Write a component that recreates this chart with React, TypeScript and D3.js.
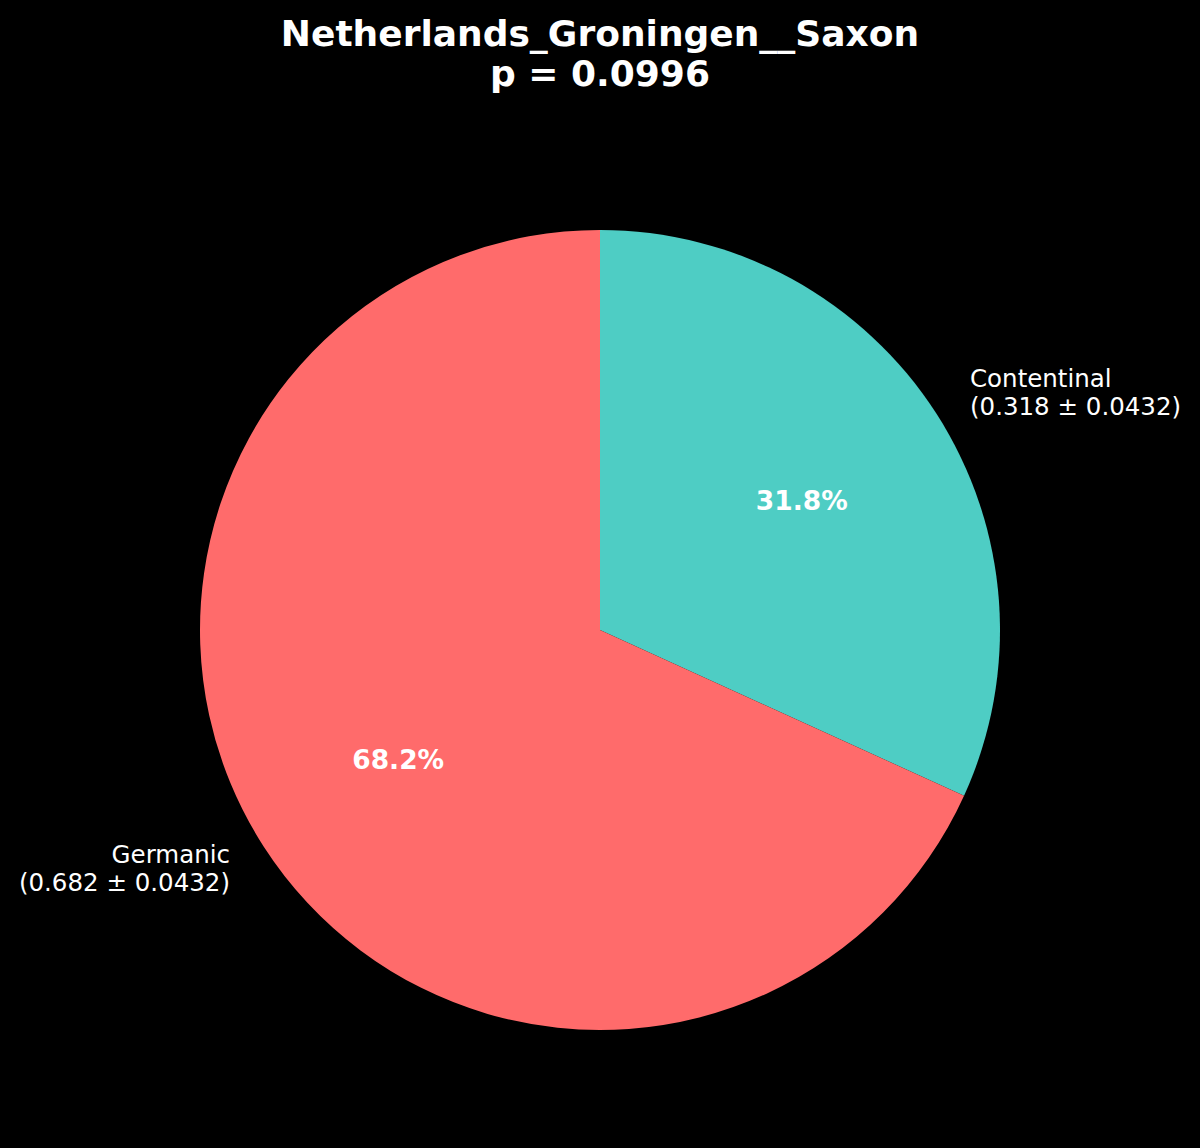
import React from "react";
import * as d3 from "d3";

const categories = ["Contentinal", "Germanic"];
const values = [0.318, 0.682];
const errors = [0.0432, 0.0432];
const colors = ["#4ecdc4", "#ff6b6b"];
const titleLines = ["Netherlands_Groningen__Saxon", "p = 0.0996"];

const W = 1200;
const H = 1148;
const cx = 600;
const cy = 630;
const R = 400;

export default function App() {
  const pie = d3.pie<number>().sort(null).value((d) => d);
  const arcs = pie(values);
  const arc = d3.arc<d3.PieArcDatum<number>>().innerRadius(0).outerRadius(R);
  const total = d3.sum(values);
  const font = "'DejaVu Sans', sans-serif";
  return (
    <svg width={W} height={H} style={{ display: "block", position: "absolute", left: 0, top: 0, background: "#000" }}>
      <rect x={0} y={0} width={W} height={H} fill="#000" />
      <g transform={`translate(${cx},${cy})`}>
        {arcs.map((a, i) => (
          <path key={i} d={arc(a) || ""} fill={colors[i]} />
        ))}
        {arcs.map((a, i) => {
          const mid = (a.startAngle + a.endAngle) / 2;
          const px = Math.sin(mid) * R * 0.6;
          const py = -Math.cos(mid) * R * 0.6;
          const lx = Math.sin(mid) * R * 1.1;
          const ly = -Math.cos(mid) * R * 1.1;
          const anchor = lx >= 0 ? "start" : "end";
          return (
            <g key={"t" + i}>
              <text x={px} y={py} textAnchor="middle" dominantBaseline="central" fill="#fff"
                fontFamily={font} fontWeight="bold" fontSize={26.5}>
                {((a.data / total) * 100).toFixed(1)}%
              </text>
              <text x={lx} y={ly} textAnchor={anchor} fill="#fff" fontFamily={font} fontSize={24.5}>
                <tspan x={lx} dy={-5}>{categories[i]}</tspan>
                <tspan x={lx} dy={28}>{`(${values[i].toFixed(3)} ± ${errors[i]})`}</tspan>
              </text>
            </g>
          );
        })}
      </g>
      <text x={W / 2} y={46} textAnchor="middle" fill="#fff" fontFamily={font} fontWeight="bold" fontSize={36}>
        {titleLines[0]}
      </text>
      <text x={W / 2} y={86} textAnchor="middle" fill="#fff" fontFamily={font} fontWeight="bold" fontSize={36}>
        {titleLines[1]}
      </text>
    </svg>
  );
}
